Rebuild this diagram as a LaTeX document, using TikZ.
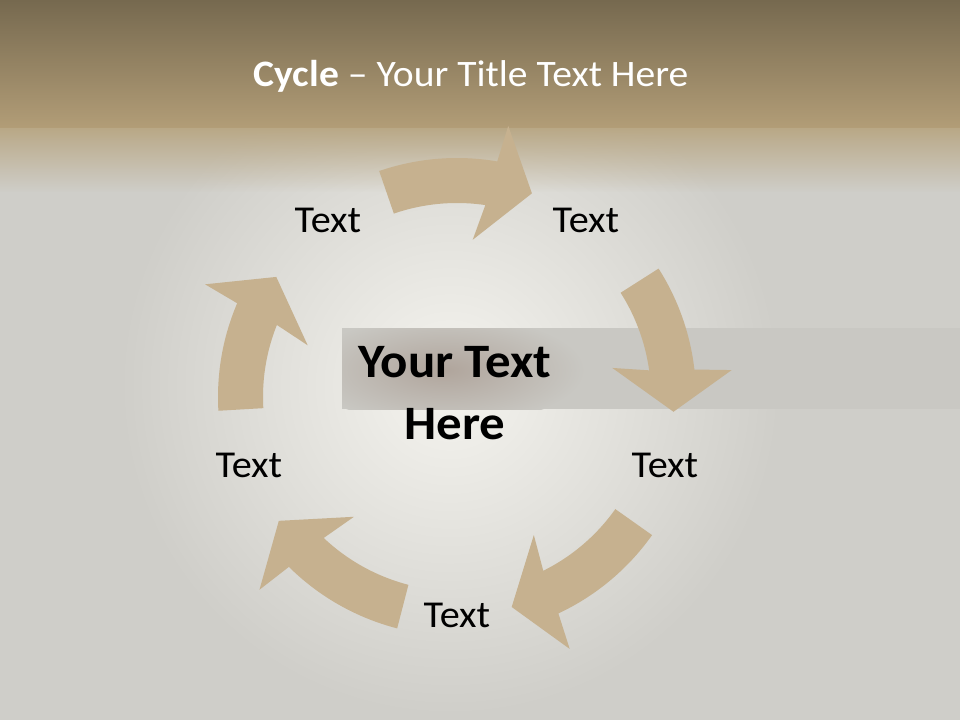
\documentclass[tikz,border=0pt]{standalone}
\usepackage{fontspec}
\setmainfont{Carlito}[FakeStretch=1.06]
\usetikzlibrary{fadings}
\definecolor{bgc}{HTML}{CFCEC9}
\definecolor{glowc}{HTML}{F5F4EF}
\definecolor{bandtop}{HTML}{76694F}
\definecolor{bandbot}{HTML}{B29D77}
\definecolor{fadec}{HTML}{B9A886}
\definecolor{arrowc}{HTML}{C6B18F}
\definecolor{stripc}{HTML}{C9C8C3}
\definecolor{blobc}{HTML}{B0A59C}
\tikzset{
  arrowfill/.style={fill=arrowc},
  steplabel/.style={font=\fontsize{28.5}{34}\selectfont, text=black, inner sep=0pt, anchor=base},
  centerlabel/.style={font=\fontsize{36}{44}\selectfont\bfseries, text=black, inner sep=0pt, anchor=base},
  titlelabel/.style={font=\fontsize{28}{34}\selectfont, text=white, inner sep=0pt, anchor=base}
}
\newcommand\cycarrow[2]{%
  \fill[arrowfill] plot[domain=#1:#2-10.5, samples=40] ({\x-90}:239)
    -- ({#2-9.5-90}:276) -- ({#2-90}:217) -- ({#2-14.5-90}:158) -- ({#2-11.8-90}:194)
    -- plot[domain=#2-11.8:#1, samples=40] ({\x-90}:194) -- cycle;}
\begin{document}
\begin{tikzpicture}[x=0.75pt,y=-0.75pt]
\useasboundingbox (0,0) rectangle (960,720);
% background
\fill[bgc] (0,0) rectangle (960,720);
\shade[inner color=glowc, outer color=bgc] (450,385) circle (330);
\shade[top color=bandtop, bottom color=bandbot] (0,0) rectangle (960,128);
\fill[fadec, path fading=south] (0,127.5) rectangle (960,192);
% central strip
\fill[stripc] (342,328) rectangle (960,409);
\begin{scope}
  \clip (342,328) rectangle (960,409);
  \shade[inner color=blobc, outer color=stripc] (445,370) ellipse (140 and 55);
\end{scope}
% arrows
\begin{scope}[shift={(457,397)}]
  \cycarrow{-19}{20.2}
  \cycarrow{57.5}{93.9}
  \cycarrow{125.3}{165.4}
  \cycarrow{194.5}{235.2}
  \cycarrow{266.7}{303.6}
\end{scope}
% texts
\node[titlelabel] (title) at (471,86.7) {{\bfseries Cycle} – Your Title Text Here};
\node[steplabel] (t1) at (328,233) {Text};
\node[steplabel] (t2) at (586,233) {Text};
\node[steplabel] (t3) at (665,477) {Text};
\node[steplabel] (t4) at (457,627) {Text};
\node[steplabel] (t5) at (249,477) {Text};
\node[centerlabel] (c1) at (455,377) {Your Text};
\node[centerlabel] (c2) at (455,439.3) {Here};
\end{tikzpicture}
\end{document}
